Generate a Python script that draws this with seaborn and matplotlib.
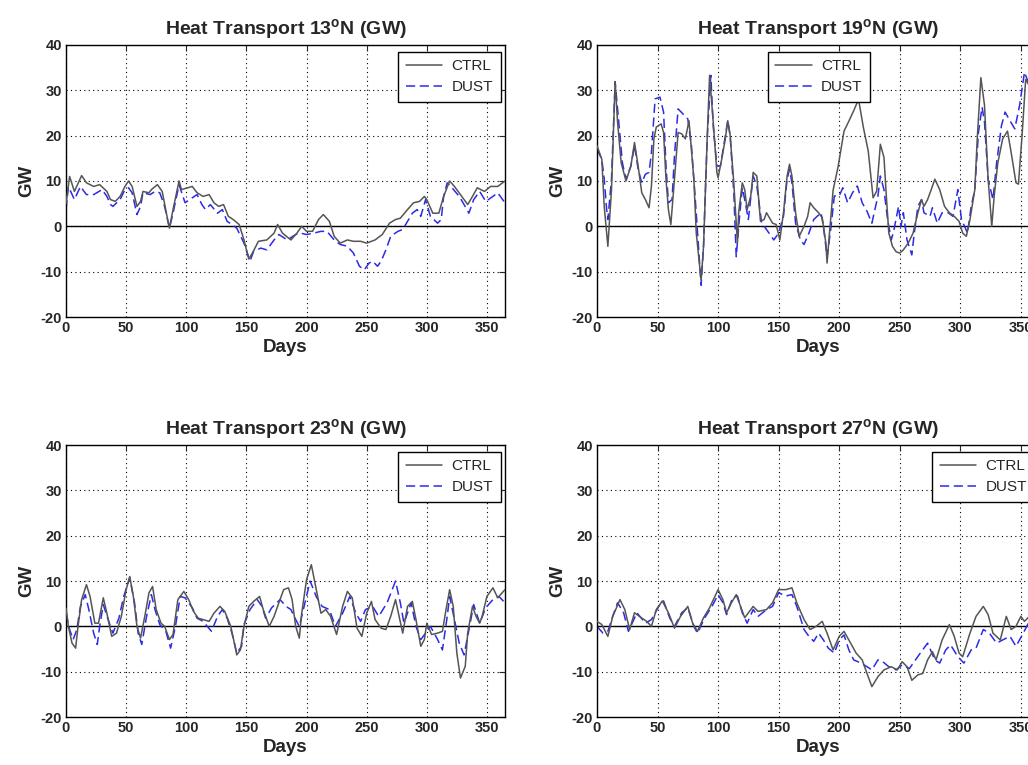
import matplotlib
matplotlib.use("Agg")
import matplotlib.pyplot as plt
import seaborn as sns
import pandas as pd

# ---------------- data ----------------
titles = ["13", "19", "23", "27"]
series_names = ["CTRL", "DUST"]
x_ticks = [0, 50, 100, 150, 200, 250, 300, 350]
y_ticks = [-20, -10, 0, 10, 20, 30, 40]

# 13N
d13_ctrl = [0,3,7,13,17,23,28,34,37,41,45,49,52,55,59,62,64,69,71,76,80,84,86,89,94,96,101,105,109,114,
            119,123,127,131,135,139,144,148,152,155,160,167,173,176,180,187,192,196,200,205,210,214,219,223,228,
            234,239,245,250,257,263,269,274,278,284,289,294,298,300,305,310,314,319,323,328,334,338,342,348,353,359,365]
v13_ctrl = [5,11,7.7,11.2,9.6,8.8,9.2,7.7,5.9,5.5,6.6,8.8,10,8.8,4.4,5.5,7.7,7.4,8.1,9.2,7.7,2.2,-0.4,3.7,10,
            8.1,8.5,8.8,7.4,6.6,7,5.2,4.4,4.8,2.2,1.5,0.4,-3,-7.2,-5.9,-3.3,-3,-1.5,0.4,-1.5,-3,-1.5,0,-1.1,-1.1,
            1.5,2.6,1.1,-2.2,-3.7,-3,-3.3,-3.3,-3.7,-3,-1.8,0.7,1.5,1.8,3.7,5.2,5.5,6.6,5.9,2.9,2.9,6.6,10,8.8,7,
            4.8,6.6,8.5,7.7,8.8,8.8,10]
d13_dust = [0,2,7,12,17,23,30,34,37,39,45,49,52,55,59,62,64,70,74,78,82,86,89,94,99,105,109,113,116,120,
            126,130,134,138,142,148,153,156,162,167,173,177,184,191,195,200,206,212,217,223,228,234,239,244,248,
            252,255,259,262,266,270,276,280,284,288,292,295,299,303,309,312,314,317,320,327,331,335,339,344,349,355,359,365]
v13_dust = [3.7,8.8,5.9,8.8,7,7,8.1,6.6,4.8,4.4,5.9,8.1,8.5,7.4,2.6,4.4,7.4,7,7.7,7.4,4.4,-0.4,2.9,9.2,5.2,
            6.3,7,4.8,3.7,4.8,2.9,3.7,1.1,0.4,-0.4,-3.7,-7.7,-5.5,-4.8,-5.2,-3,-1.8,-3,-1.8,-1.5,-1.8,-1.5,-1.1,-1.1,-3,
            -4,-4.4,-5.9,-8.8,-9.6,-8.1,-7.7,-8.8,-7.7,-5.2,-2.2,-1.1,-0.7,1.1,2.9,3.7,2.2,5.9,2.2,0.7,1.5,6.6,9.6,8.8,6.6,
            4.8,2.9,5.9,7.7,5.5,6.6,7.4,5.2]

# 19N
d19_ctrl = [0,4,6,9,12,15,17,20,24,28,31,34,37,40,43,45,47,49,53,55,57,59,61,64,67,70,73,76,80,82,86,88,91,93,96,
            99,100,103,106,108,110,113,116,117,120,122,124,127,129,132,135,138,140,145,148,151,154,157,159,161,164,167,
            171,174,176,179,183,186,189,190,192,195,199,204,208,212,216,220,224,228,231,234,237,239,241,244,247,250,253,
            257,261,265,268,270,273,276,279,283,287,291,295,299,302,305,308,312,314,317,320,323,326,328,331,335,339,342,
            346,348,351,354,357,361,365]
v19_ctrl = [17.8,14.8,4.4,-4.4,8.1,31.9,23,14,10,13.3,18.5,13.3,7.4,5.9,4.1,8.9,19.3,21.9,22.6,20.7,10.4,3.7,0.4,10.4,
            20.7,20.4,19.3,23.3,10.4,-1.5,-11.9,-4.4,19.3,33.3,23,11.9,10.7,14.8,19.3,23.3,20,9.6,-3.7,3,9.6,8.1,3.7,6.7,
            11.9,11.1,1.1,1.5,3,0.7,0.4,-3,3,11.1,13.7,11.1,3,-2.2,0,2.2,5.2,4.1,3,1.9,-3.7,-8.1,-1.5,8,13,21,23.2,25.5,
            28,21.8,16.6,6.3,7.8,18.1,15.2,6.4,-1.5,-4.4,-5.6,-5.9,-5.2,-3.7,-1.5,3,5.9,4.4,5.9,8.1,10.4,8.1,4.4,3,2.2,1.1,
            -1.5,-2.2,1.5,8.1,19.3,32.8,26.7,10.4,0,6.7,14,19.3,21,16.3,9.6,9.3,20,32.4,31,25,20]
d19_dust = [0,4,6,8,9,12,15,18,21,24,28,31,34,37,40,43,45,48,52,55,57,59,62,64,67,71,75,78,81,84,86,88,91,94,96,99,
            102,106,108,110,113,115,118,120,122,125,129,132,136,140,146,150,154,157,159,161,164,168,171,175,179,185,187,
            190,193,196,200,203,207,211,215,219,223,227,232,234,237,240,243,245,249,251,253,256,260,262,265,268,270,275,
            277,281,285,290,294,298,301,306,309,312,315,318,320,323,327,330,334,337,341,345,349,353,356,360,365]
v19_dust = [17,14.8,10.4,3.7,1.5,10.4,31.9,23,14,10.4,13.3,17.8,12.6,9.6,11.5,11.9,16.3,28.1,28.5,25.2,13.3,5.2,5.9,
            15.6,25.9,24.8,23.7,17.8,6.7,-5.2,-13,-4.4,19.3,33.3,22.2,13.3,13.3,20,23.3,20,7.4,-6.7,3,8.5,5.9,1.5,11.1,
            8.9,0.7,-0.7,-3,-1.5,2.2,10.4,12.6,9.6,0.7,-3,-4,-1.5,1.5,3,0,-6.7,-0.7,6.7,6.7,8.5,5.2,7.4,8.9,5.2,3.3,0.7,
            6.7,11.1,8.1,1.5,-3,-1.1,4.4,0,3,-3,-6.3,-1.5,4.4,5.9,3,2.2,4.1,0.7,3,3,2.2,8.1,1.5,-1.5,4.4,8.1,20.7,26.3,
            23,10.4,5.9,14,22.2,25.2,23.3,21.5,26.7,34,31.9,27,22]

# 23N
d23_ctrl = [0,2,5,8,10,13,17,20,24,27,31,34,38,42,46,50,53,56,59,62,66,69,72,75,79,82,86,89,93,98,102,106,110,114,
            119,123,128,132,137,140,142,145,148,152,156,161,164,169,173,177,181,185,188,191,194,196,200,204,207,212,
            216,220,225,230,234,238,242,246,250,254,257,262,266,270,274,277,280,284,288,291,295,298,300,304,309,313,
            316,319,322,325,328,332,334,338,341,344,346,350,355,359,365]
v23_ctrl = [4,0,-3.7,-4.8,0,5.9,9.2,6.6,0.7,0.7,6.3,2.9,-2.2,-1.5,2.2,8.1,11,6.6,0,-2.6,2.9,7.4,8.8,3.7,0.7,0,-2.9,
            -1.8,5.9,7.7,5.9,3.3,1.8,1.5,1.1,2.9,4.4,3.3,0,-3.7,-6.3,-5.2,0,4.4,5.5,6.6,3.7,0,2.2,5.2,8.1,8.5,5.9,0,
            -2.6,2.9,10.3,13.6,9.6,2.9,3.7,2.2,-1.8,4.4,7.7,6.3,-0.4,-2.2,2.9,5.5,1.5,-0.4,-0.7,2.2,5.9,2.2,-1.5,4.4,
            5.5,1.5,-4.4,-2.9,0.7,-1.8,-1.5,-1.1,3.7,8.1,4.4,-5.9,-11.4,-8.8,-1.5,4.4,2.2,0.7,2.2,6.6,8.5,6.3,8.1]
d23_dust = [0,3,6,9,12,16,19,23,26,28,31,35,39,44,48,53,57,60,63,67,71,74,78,83,87,91,95,99,105,109,114,121,126,130,
            134,138,142,146,148,153,159,163,166,171,178,183,187,191,194,198,203,208,213,219,224,230,236,241,245,249,255,
            260,267,274,278,281,287,291,295,299,303,309,313,317,319,323,327,331,334,339,344,349,355,360,365]
v23_dust = [2.9,-0.7,-2.9,-0.7,4.4,7,3.7,-1.5,-4,0,4.8,1.5,-1.5,1.8,6.6,10.7,5.2,-1.5,-4,2.2,7,3.7,0.4,-1.1,-4.8,0,
            6.6,6.3,4.1,1.8,1.1,-1.1,2.2,3.7,1.8,-1.5,-5.9,-4.4,0.4,3.7,5.9,4.4,1.8,4.1,5.9,4.4,3.7,1.5,0,4.4,10,6.6,4.4,
            3.7,0,2.9,6.6,2.9,1.1,3.7,4.4,2.2,5.2,10,5.2,0.7,5.2,0,-2.9,-1.5,0,-2.9,-5.2,2.2,6.6,1.5,-3.7,-6.3,-2.2,4.8,
            0.7,4.1,5.9,6.6,5.2]

# 27N
d27_ctrl = [0,4,9,13,19,23,27,31,35,41,45,49,54,59,64,69,75,79,83,88,93,100,104,107,111,115,118,122,129,133,140,145,
            150,156,161,165,171,176,181,186,190,195,200,204,208,214,219,223,227,232,237,243,248,252,256,260,265,269,273,
            277,280,285,291,295,299,302,308,313,319,323,327,333,338,342,346,350,353,357,361,365]
v27_ctrl = [1.1,0.4,-2.2,2.2,5.9,3.7,-0.7,3,2.2,1.1,0,3.7,5.6,3,-0.4,2.2,4.4,0.7,-1.1,1.9,4.1,8.1,5.9,3,5.2,7,4.8,
            1.9,4.4,3.3,3.7,5.2,8.1,8.1,8.5,5.2,1.5,-0.7,0,1.1,-1.5,-5.2,-2.2,-1.1,-3,-5.9,-7.4,-10.4,-13.3,-11.1,-9.6,
            -8.9,-9.6,-7.8,-8.9,-11.9,-10.7,-10.4,-7.4,-5.6,-7.4,-3,0.4,-2.2,-5.9,-6.7,-1.5,2.2,4.4,2.6,-1.5,-3,2.2,-0.7,
            0,2.2,1.1,2.2,1.5,2]
d27_dust = [0,5,9,13,17,22,26,33,40,45,51,55,60,64,70,75,80,83,89,95,100,104,107,112,116,120,124,129,133,140,145,150,
            156,161,165,171,175,179,183,187,191,196,200,204,208,212,218,223,227,232,236,241,247,252,258,263,267,273,279,
            283,288,292,298,303,309,313,319,324,330,335,341,346,352,357,361,365]
v27_dust = [0,-1.5,-1.1,2.2,5.2,3,-1.1,3,0.7,1.5,4.4,5.6,1.9,0,3,4.1,0,-1.5,1.9,4.4,7,5.2,2.6,6.3,6.7,3,0.7,3.7,2.2,
            3.7,4.4,7.4,6.7,7,4.4,-0.7,-2.2,-3.3,-1.5,-3,-4.8,-5.9,-3,-1.9,-5.2,-7.4,-8.1,-8.9,-9.6,-7.4,-7.8,-8.9,-9.6,
            -8.5,-9.3,-7.4,-5.9,-3.7,-7.4,-8.1,-5.2,-4.1,-6.7,-8.1,-5.2,-4.8,-0.7,-1.5,-3.7,-3,-2.2,-4.4,-1.5,1.1,1.5,1]

panels = [
    (d13_ctrl, v13_ctrl, d13_dust, v13_dust),
    (d19_ctrl, v19_ctrl, d19_dust, v19_dust),
    (d23_ctrl, v23_ctrl, d23_dust, v23_dust),
    (d27_ctrl, v27_ctrl, d27_dust, v27_dust),
]

# ---------------- style ----------------
sns.set_style("white")
plt.rcParams["font.family"] = ["Liberation Sans", "DejaVu Sans"]
plt.rcParams["mathtext.fontset"] = "custom"
plt.rcParams["mathtext.rm"] = "Liberation Sans"
plt.rcParams["mathtext.bf"] = "Liberation Sans:bold"
plt.rcParams["axes.unicode_minus"] = False

fig = plt.figure(figsize=(10.28, 7.65), dpi=100)
rects = [
    [0.0642, 0.5856, 0.4270, 0.3556],
    [0.5807, 0.5856, 0.4300, 0.3556],
    [0.0642, 0.0627, 0.4270, 0.3556],
    [0.5807, 0.0627, 0.4300, 0.3556],
]
legend_anchor = [
    ("upper right", (0.99, 0.975)),
    ("upper left", (0.386, 0.975)),
    ("upper right", (0.99, 0.975)),
    ("upper right", (0.99, 0.975)),
]
ctrl_color = "#555555"
dust_color = "#2b2be8"

for i, (dc, vc, dd, vd) in enumerate(panels):
    assert len(dc) == len(vc) and len(dd) == len(vd)
    ax = fig.add_axes(rects[i])
    ax.axhline(0, color="black", lw=1.0, zorder=1)
    sns.lineplot(x=dc, y=vc, ax=ax, color=ctrl_color, lw=1.1, label=series_names[0],
                 estimator=None, sort=False, zorder=3)
    sns.lineplot(x=dd, y=vd, ax=ax, color=dust_color, lw=1.1, label=series_names[1],
                 estimator=None, sort=False, zorder=2, dashes=False, linestyle=(0, (6, 3)))
    ax.set_xlim(0, 365)
    ax.set_ylim(-20, 40)
    ax.set_xticks(x_ticks)
    ax.set_yticks(y_ticks)
    ax.grid(True, linestyle=(0, (1, 3)), color="black", linewidth=0.8)
    ax.tick_params(direction="in", top=True, right=True, length=4, width=0.8,
                   labelsize=10.5, pad=3)
    for lab in ax.get_xticklabels() + ax.get_yticklabels():
        lab.set_fontweight("bold")
    for sp in ax.spines.values():
        sp.set_color("black")
        sp.set_linewidth(1.0)
    ax.set_title(r"Heat Transport " + titles[i] + r"$^{\mathbf{o}}$N (GW)",
                 fontsize=14, fontweight="bold", pad=7)
    ax.set_xlabel("Days", fontsize=13.5, fontweight="bold", labelpad=3)
    ax.set_ylabel("GW", fontsize=13.5, fontweight="bold", labelpad=4)
    loc, anchor = legend_anchor[i]
    leg = ax.legend(loc=loc, bbox_to_anchor=anchor, frameon=True, fancybox=False,
                    edgecolor="black", framealpha=1, fontsize=11, handlelength=2.4,
                    borderpad=0.5, labelspacing=0.45, handletextpad=0.6, borderaxespad=0)
    leg.get_frame().set_linewidth(1.0)

fig.savefig("out.png", dpi=100)
